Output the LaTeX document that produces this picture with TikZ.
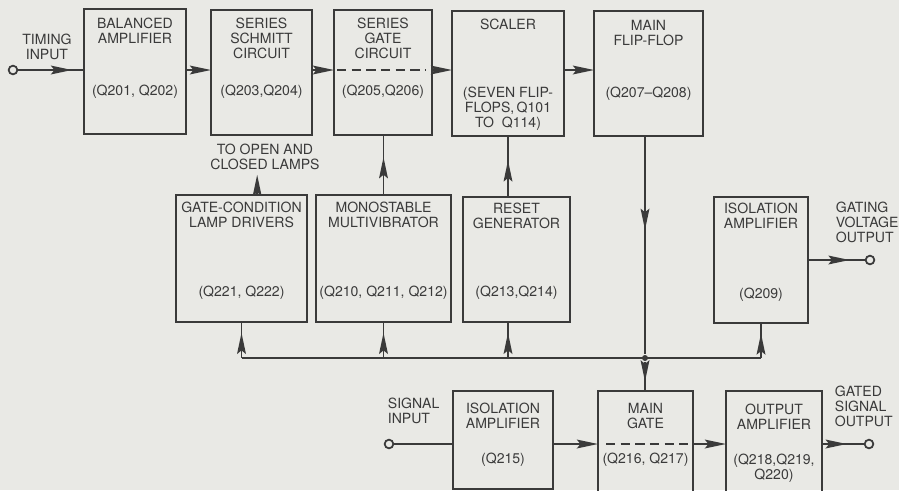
\documentclass[tikz,border=0pt]{standalone}
\usepackage{fontspec}
\setmainfont{TeX Gyre Heros}
\usepackage{xcolor}
\usetikzlibrary{arrows.meta,decorations.markings}
\definecolor{papel}{RGB}{233,233,229}
\definecolor{tinta}{RGB}{58,58,58}

\begin{document}
\begin{tikzpicture}[x=0.03cm,y=-0.03cm,line width=1.5pt,color=tinta,
  punta/.tip={Stealth[length=18pt,width=7.5pt,inset=3pt]},
  caja/.style={draw,inner sep=0pt,outer sep=0pt},
  rotulo/.style={align=center,inner sep=0pt,font=\fontsize{12}{12.8}\selectfont},
  borne/.style={draw,fill=papel,circle,minimum size=0.26cm,inner sep=0pt,outer sep=0pt},
  punto/.style={fill,circle,minimum size=0.18cm,inner sep=0pt},
  flecha/.style={postaction={decorate},decoration={markings,mark=at position #1 with {\arrow{punta}}}},
  guiones/.style={dash pattern=on 8pt off 4.5pt}]
  \useasboundingbox (0,0) rectangle (899,490);
  \fill[papel] (0,0) rectangle (899,490);
  \clip (0,0) rectangle (899,490);

  \node[caja,minimum width=3.06cm,minimum height=3.75cm] (bal) at (135,71.5) {};
  \node[caja,minimum width=3.03cm,minimum height=3.75cm] (sch) at (261.5,72.5) {};
  \node[caja,minimum width=2.94cm,minimum height=3.75cm] (gate) at (383,72.5) {};
  \node[caja,minimum width=3.36cm,minimum height=3.75cm] (scal) at (508,73.5) {};
  \node[caja,minimum width=3.27cm,minimum height=3.75cm] (mff) at (648.5,73.5) {};
  \node[caja,minimum width=3.93cm,minimum height=3.81cm] (gcl) at (241.5,258.5) {};
  \node[caja,minimum width=4.05cm,minimum height=3.81cm] (mono) at (383.5,258.5) {};
  \node[caja,minimum width=3.21cm,minimum height=3.75cm] (reset) at (516.5,259.5) {};
  \node[caja,minimum width=2.82cm,minimum height=3.78cm] (iso1) at (761,260) {};
  \node[caja,minimum width=3.00cm,minimum height=2.94cm] (iso2) at (503,440) {};
  \node[caja,minimum width=2.85cm,minimum height=3.27cm] (mgate) at (645.5,445.5) {};
  \node[caja,minimum width=2.88cm,minimum height=3.27cm] (oamp) at (774,445.5) {};

  \node[rotulo] (balT) at (135,30.5) {BALANCED\\AMPLIFIER};
  \node[rotulo] (balQ) at (135,92) {(Q201, Q202)};
  \node[rotulo] (schT) at (261.5,38) {SERIES\\SCHMITT\\CIRCUIT};
  \node[rotulo] (schQ) at (261.5,92) {(Q203,Q204)};
  \node[rotulo] (gateT) at (383,38) {SERIES\\GATE\\CIRCUIT};
  \node[rotulo] (gateQ) at (383,92) {(Q205,Q206)};
  \node[rotulo] (scalT) at (508,24) {SCALER};
  \node[rotulo] (scalQ) at (508,108.5) {(SEVEN FLIP-\\FLOPS,\,Q101\\TO\ \ Q114)};
  \node[rotulo] (mffT) at (648.5,32.5) {MAIN\\FLIP-FLOP};
  \node[rotulo] (mffQ) at (648.5,94) {(Q207--Q208)};
  \node[rotulo] (lamp) at (265,157) {TO OPEN AND\\CLOSED LAMPS};
  \node[rotulo] (gclT) at (241.5,215) {GATE-CONDITION\\LAMP DRIVERS};
  \node[rotulo] (gclQ) at (241.5,293) {(Q221, Q222)};
  \node[rotulo] (monoT) at (383.5,215) {MONOSTABLE\\MULTIVIBRATOR};
  \node[rotulo] (monoQ) at (383.5,293) {(Q210, Q211, Q212)};
  \node[rotulo] (resetT) at (516.5,215.5) {RESET\\GENERATOR};
  \node[rotulo] (resetQ) at (516.5,293) {(Q213,Q214)};
  \node[rotulo] (iso1T) at (761,216) {ISOLATION\\AMPLIFIER};
  \node[rotulo] (iso1Q) at (761,295) {(Q209)};
  \node[rotulo] (iso2T) at (503,415.5) {ISOLATION\\AMPLIFIER};
  \node[rotulo] (iso2Q) at (503,460) {(Q215)};
  \node[rotulo] (mgateT) at (645.5,415.5) {MAIN\\GATE};
  \node[rotulo] (mgateQ) at (645.5,460) {(Q216, Q217)};
  \node[rotulo] (oampT) at (774,417) {OUTPUT\\AMPLIFIER};
  \node[rotulo] (oampQ) at (774,468) {(Q218,Q219,\\Q220)};

  \node[borne] (ti) at (13,70) {};
  \node[rotulo] (tiT) at (47,46.5) {TIMING\\INPUT};
  \node[borne] (gvc) at (870,260) {};
  \node[rotulo,align=left,anchor=west] (gvcT) at (835,222.5) {GATING\\VOLTAGE\\OUTPUT};
  \node[borne] (si) at (389,444) {};
  \node[rotulo,align=left,anchor=west] (siT) at (387,411) {SIGNAL\\INPUT};
  \node[borne] (go) at (869,444) {};
  \node[rotulo,align=left,anchor=west] (goT) at (834,406) {GATED\\SIGNAL\\OUTPUT};
  \node[punto] (j) at (645,358) {};

  \draw[flecha=0.82] (ti) -- (bal.west |- ti);
  \draw[-punta] (bal.east |- ti) -- (sch.west |- ti);
  \draw[-punta] (sch.east |- ti) -- (gate.west |- ti);
  \draw[guiones] ([xshift=0.09cm]gate.west |- ti) -- ([xshift=-0.21cm]gate.east |- ti);
  \draw[-punta] (gate.east |- ti) -- (scal.west |- ti);
  \draw[-punta] (scal.east |- ti) -- (mff.west |- ti);
  \draw[-punta] ([xshift=0.47cm]gcl.north) -- ([xshift=0.47cm,yshift=-0.12cm]gcl.north |- lamp.south);
  \draw[flecha=0.63] (mono.north) -- (mono.north |- gate.south);
  \draw[flecha=0.6] (reset.north -| scal.south) -- (scal.south);
  \draw[flecha=0.43] (mff.south -| j) -- (j);
  \draw (gcl.south |- j) -- (iso1.south |- j);
  \draw[flecha=0.7] (gcl.south |- j) -- (gcl.south);
  \draw[flecha=0.7] (mono.south |- j) -- (mono.south);
  \draw[flecha=0.7] (scal.south |- j) -- (scal.south |- reset.south);
  \draw[flecha=0.7] (iso1.south |- j) -- (iso1.south);
  \draw[flecha=0.67] (j) -- (mgate.north -| j);
  \draw[flecha=0.72] (iso1.east |- gvc) -- (gvc);
  \draw (si) -- (iso2.west |- si);
  \draw[-punta] (iso2.east |- si) -- (mgate.west |- si);
  \draw[guiones] ([xshift=0.24cm]mgate.west |- si) -- ([xshift=-0.15cm]mgate.east |- si);
  \draw[-punta] (mgate.east |- si) -- (oamp.west |- si);
  \draw[flecha=0.58] (oamp.east |- go) -- (go);
\end{tikzpicture}
\end{document}
